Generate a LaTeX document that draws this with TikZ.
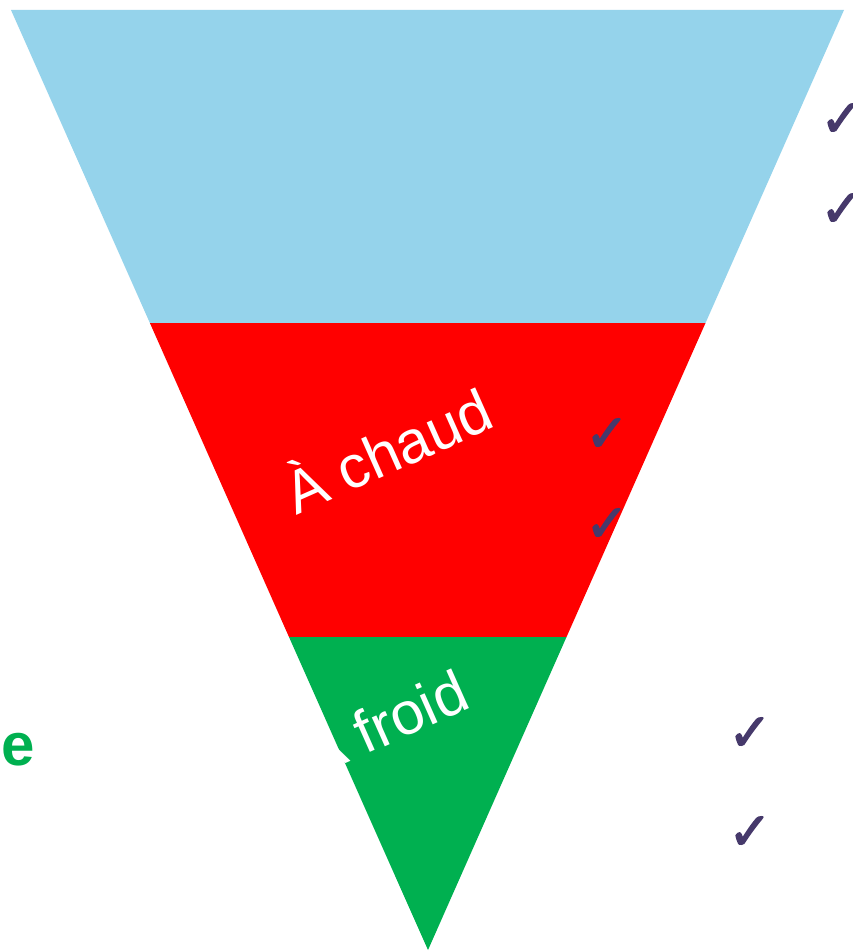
\documentclass[tikz,border=0pt]{standalone}
\usepackage{fontspec}
\setmainfont{Liberation Sans}
\newfontfamily\symfont[FakeBold=2.5]{DejaVu Sans}
\definecolor{skyband}{HTML}{95D3EB}
\definecolor{redband}{HTML}{FF0000}
\definecolor{greenband}{HTML}{00B050}
\definecolor{checkcol}{HTML}{46396B}
\begin{document}
\begin{tikzpicture}[x=1pt,y=-1pt,
  checkmark/.style={text=checkcol, font=\symfont\fontsize{52}{52}\selectfont, inner sep=0pt, anchor=center},
  bandlabel/.style={text=white, font=\fontsize{60}{60}\selectfont, rotate=24, anchor=base west, inner sep=0pt}]
\useasboundingbox (0,0) rectangle (853,952);
\coordinate (tl) at (11,10);
\coordinate (tr) at (844,10);
\coordinate (ml1) at (149.9,323);
\coordinate (mr1) at (705.5,323);
\coordinate (ml2) at (289,637);
\coordinate (mr2) at (566.5,637);
\coordinate (apex) at (428,950);
\fill[skyband] (tl) -- (tr) -- (mr1) -- (ml1) -- cycle;
\fill[redband] (ml1) -- (mr1) -- (mr2) -- (ml2) -- cycle;
\fill[greenband] (ml2) -- (mr2) -- (apex) -- cycle;
\node[bandlabel] (chaud) at (296,516) {À chaud};
\node[bandlabel] (froid) at (314,778) {À froid};
\node[text=greenband, font=\bfseries\fontsize{60}{60}\selectfont, anchor=base east, inner sep=0pt] (ewrd) at (35,765) {e};
\node[checkmark] (c1) at (842,120) {✓};
\node[checkmark] (c2) at (842,210) {✓};
\node[checkmark] (c3) at (607,435) {✓};
\node[checkmark] (c4) at (607,525) {✓};
\node[checkmark] (c5) at (750,734) {✓};
\node[checkmark] (c6) at (750,833) {✓};
\end{tikzpicture}
\end{document}
